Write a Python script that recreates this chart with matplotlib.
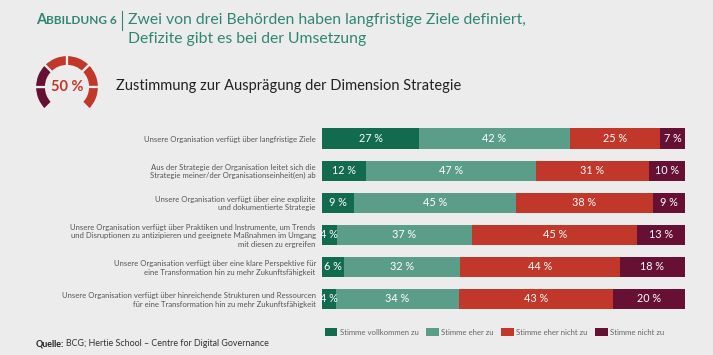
import numpy as np
import matplotlib.pyplot as plt
from matplotlib.patches import Wedge, Patch

plt.rcParams['font.family'] = ['Lato', 'DejaVu Sans']

# Daten
categories = [
    "Unsere Organisation verfügt über langfristige Ziele",
    "Aus der Strategie der Organisation leitet sich die\nStrategie meiner/der Organisationseinheit(en) ab",
    "Unsere Organisation verfügt über eine explizite\nund dokumentierte Strategie",
    "Unsere Organisation verfügt über Praktiken und Instrumente, um Trends\nund Disruptionen zu antizipieren und geeignete Maßnahmen im Umgang\nmit diesen zu ergreifen",
    "Unsere Organisation verfügt über eine klare Perspektive für\neine Transformation hin zu mehr Zukunftsfähigkeit",
    "Unsere Organisation verfügt über hinreichende Strukturen und Ressourcen\nfür eine Transformation hin zu mehr Zukunftsfähigkeit",
]
vollkommen = [27, 12, 9, 4, 6, 4]
eher = [42, 47, 45, 37, 32, 34]
eher_nicht = [25, 31, 38, 45, 44, 43]
nicht = [7, 10, 9, 13, 18, 20]
series_names = ["Stimme vollkommen zu", "Stimme eher zu", "Stimme eher nicht zu", "Stimme nicht zu"]

gauge_value = "50 %"
gauge_segments = ["dark", "dark", "red", "red", "red", "red"]

# Farben
bg = '#ececec'
colors = ['#136b4f', '#5a9d88', '#c1382a', '#661033']
teal = '#2f8771'

fig = plt.figure(figsize=(7.13, 3.55), dpi=100)
fig.patch.set_facecolor(bg)

W, H = 713, 355

# Hauptdiagramm
ax = fig.add_axes([322 / W, 1 - 315 / H, 363 / W, (315 - 122.5) / H])
ax.set_facecolor('none')

series = np.array([vollkommen, eher, eher_nicht, nicht], dtype=float)
totals = series.sum(axis=0)
shares = series / totals * 100
y = np.arange(len(categories))
left = np.zeros(len(categories))
for i in range(4):
    ax.barh(y, shares[i], left=left, height=0.63, color=colors[i], label=series_names[i])
    for j in range(len(categories)):
        ax.text(left[j] + shares[i][j] / 2, y[j], f"{int(series[i][j])} %",
                ha='center', va='center', color='white', fontsize=7.8)
    left += shares[i]

ax.set_xlim(0, 100)
ax.set_ylim(len(categories) - 0.5, -0.5)
ax.set_yticks(y)
ax.set_yticklabels(categories, fontsize=5.6, color='#555555', linespacing=1.2)
ax.tick_params(axis='y', length=0, pad=4.5)
ax.set_xticks([])
for s in ax.spines.values():
    s.set_visible(False)

# Legende
handles = [Patch(facecolor=c) for c in colors]
fig.legend(handles, series_names, loc='center left', bbox_to_anchor=(318 / W, 1 - 332 / H),
           ncol=4, frameon=False, fontsize=5.6, labelcolor='#666666',
           handlelength=1.6, handleheight=1.15, handletextpad=0.3, columnspacing=1.0)

# Gauge
gx = fig.add_axes([(67 - 36) / W, 1 - (87 + 36) / H, 72 / W, 72 / H])
gx.set_xlim(-36, 36)
gx.set_ylim(-36, 36)
gx.axis('off')
for k, seg in enumerate(gauge_segments):
    t2 = 225 - 45 * k
    t1 = t2 - 45
    c = colors[3] if seg == "dark" else colors[2]
    gx.add_patch(Wedge((0, 0), 32, t1, t2, width=11, facecolor=c, edgecolor=bg, linewidth=1.6))
gx.text(0, 0, gauge_value, ha='center', va='center', color=colors[2],
        fontsize=10.5, fontweight='bold')

# Titel
fig.canvas.draw()
r = fig.canvas.get_renderer()
t_a = fig.text(36 / W, 1 - 24 / H, "A", fontsize=10.5, fontweight='bold', color=teal)
bb = t_a.get_window_extent(r)
fig.text(bb.x1 / W + 0.0005, 1 - 24 / H, "BBILDUNG 6", fontsize=8.5, fontweight='bold', color=teal)
fig.add_artist(plt.Line2D([122 / W, 122 / W], [1 - 30 / H, 1 - 11 / H], color=teal, lw=0.8))
fig.text(128 / W, 1 - 24 / H, "Zwei von drei Behörden haben langfristige Ziele definiert,",
         fontsize=11.3, color=teal)
fig.text(128 / W, 1 - 43 / H, "Defizite gibt es bei der Umsetzung", fontsize=11.3, color=teal)

fig.text(116 / W, 1 - 86 / H, "Zustimmung zur Ausprägung der Dimension Strategie",
         fontsize=10.55, color='#222222', va='center')

# Quelle
t_q = fig.text(36 / W, 1 - 344 / H, "Quelle:", fontsize=6.4, fontweight='bold',
               color='#222222', va='center')
bq = t_q.get_window_extent(r)
fig.text(bq.x1 / W + 0.003, 1 - 344 / H, "BCG; Hertie School – Centre for Digital Governance",
         fontsize=6.4, color='#333333', va='center')

fig.savefig('out.png', dpi=100, facecolor=bg)
